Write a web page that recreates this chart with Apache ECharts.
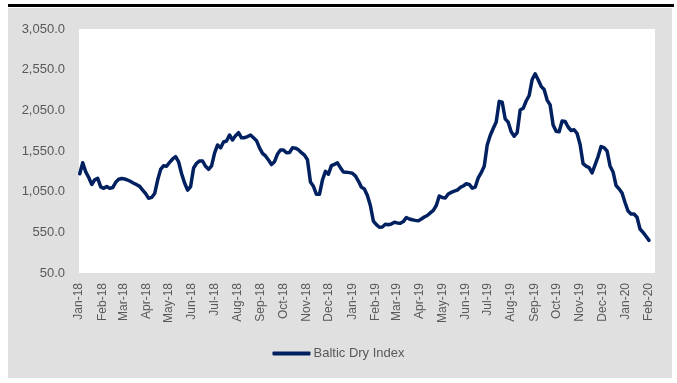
<!DOCTYPE html>
<html>
<head>
<meta charset="utf-8">
<script src="https://cdn.jsdelivr.net/npm/echarts@6/dist/echarts.min.js"></script>
<style>
  html, body { margin: 0; padding: 0; background: #ffffff; }
  #topbar { position: absolute; left: 8px; top: 4px; width: 666px; height: 3px; background: #000; }
  #panel { position: absolute; left: 8px; top: 8px; width: 664px; height: 370px; background: #e0e0e0; }
  #chart { position: absolute; left: 0; top: 0; width: 677px; height: 383px; }
</style>
</head>
<body>
<div id="topbar"></div>
<div id="panel"></div>
<div id="chart"></div>
<script>
// ---- Data ----
const seriesName = 'Baltic Dry Index';
const axisStart = '2018-01-01';
const axisEnd = '2020-02-09';
const firstDate = '2018-01-02';
const stepDays = 4;
const monthNames = ['Jan','Feb','Mar','Apr','May','Jun','Jul','Aug','Sep','Oct','Nov','Dec'];
const yTicks = { min: 50, max: 3050, interval: 500 };
const bdiValues = [
  1270, 1405, 1293, 1224, 1139, 1196, 1214, 1109, 1091, 1112,
  1091, 1101, 1165, 1202, 1212, 1206, 1193, 1175, 1154, 1136,
  1115, 1070, 1026, 968, 979, 1027, 1193, 1324, 1369, 1362,
  1411, 1452, 1480, 1415, 1270, 1157, 1068, 1113, 1341, 1399,
  1428, 1427, 1362, 1325, 1368, 1525, 1624, 1589, 1661, 1673,
  1747, 1685, 1739, 1775, 1712, 1714, 1728, 1745, 1713, 1677,
  1589, 1520, 1489, 1439, 1383, 1418, 1513, 1562, 1563, 1529,
  1531, 1589, 1585, 1566, 1530, 1499, 1442, 1169, 1116, 1018,
  1018, 1193, 1300, 1265, 1370, 1386, 1404, 1345, 1293, 1289,
  1284, 1277, 1243, 1180, 1106, 1083, 1002, 880, 689, 645,
  613, 616, 649, 643, 652, 673, 666, 661, 682, 732,
  714, 704, 697, 691, 714, 739, 757, 789, 820, 880,
  997, 978, 972, 1021, 1041, 1056, 1069, 1102, 1120, 1147,
  1139, 1093, 1107, 1219, 1283, 1362, 1624, 1741, 1827, 1907,
  2160, 2149, 1946, 1904, 1787, 1731, 1777, 2054, 2075, 2165,
  2232, 2429, 2500, 2427, 2345, 2306, 2176, 2117, 1870, 1792,
  1787, 1919, 1914, 1845, 1802, 1811, 1765, 1631, 1394, 1363,
  1346, 1280, 1378, 1481, 1604, 1591, 1550, 1366, 1292, 1126,
  1085, 1034, 917, 812, 775, 775, 735, 591, 550, 501,
  451
];

// ---- Helpers ----
const DAY = 86400000;
function parseUTC(s) { const p = s.split('-'); return Date.UTC(+p[0], +p[1] - 1, +p[2]); }
function fmt(t) { return new Date(t).toISOString().slice(0, 10); }

const dayCategories = [];
for (let t = parseUTC(axisStart); t <= parseUTC(axisEnd); t += DAY) dayCategories.push(fmt(t));

const t0 = parseUTC(firstDate);
const seriesData = bdiValues.map((v, i) => [fmt(t0 + i * stepDays * DAY), v]);

const FONT = 'Liberation Sans, Arial, sans-serif';
const chart = echarts.init(document.getElementById('chart'), null, { renderer: 'canvas' });
chart.setOption({
  backgroundColor: 'transparent',
  animation: false,
  grid: { left: 79, right: 22, top: 29, bottom: 110, show: true, backgroundColor: '#ffffff', borderWidth: 0 },
  legend: {
    data: [seriesName],
    bottom: 18,
    left: 'center',
    icon: 'roundRect',
    itemWidth: 38,
    itemHeight: 4,
    itemGap: 10,
    textStyle: { color: '#595959', fontSize: 13, fontFamily: FONT, padding: [0, 0, 0, -2] }
  },
  xAxis: {
    type: 'category',
    data: dayCategories,
    boundaryGap: false,
    axisLine: { show: false },
    axisTick: { show: false },
    splitLine: { show: false },
    axisLabel: {
      interval: (idx, val) => val.slice(8) === '01',
      rotate: 90,
      margin: 10,
      color: '#595959',
      fontSize: 12,
      fontFamily: FONT,
      formatter: val => monthNames[+val.slice(5, 7) - 1] + '-' + val.slice(2, 4)
    }
  },
  yAxis: {
    type: 'value',
    min: yTicks.min,
    max: yTicks.max,
    interval: yTicks.interval,
    axisLine: { show: false },
    axisTick: { show: false },
    splitLine: { show: false },
    axisLabel: {
      margin: 14,
      color: '#595959',
      fontSize: 13,
      fontFamily: FONT,
      formatter: v => v.toLocaleString('en-US', { minimumFractionDigits: 1, maximumFractionDigits: 1 })
    }
  },
  series: [{
    name: seriesName,
    type: 'line',
    data: seriesData,
    symbol: 'none',
    showSymbol: false,
    lineStyle: { color: '#002060', width: 3.5, cap: 'round', join: 'round' },
    itemStyle: { color: '#002060' }
  }]
});
</script>
</body>
</html>
